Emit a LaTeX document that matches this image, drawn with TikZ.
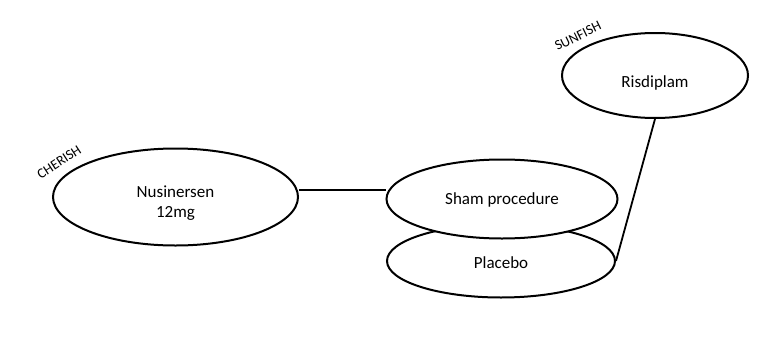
\documentclass[tikz,border=0pt]{standalone}
\usepackage{fontspec}
\setmainfont{Carlito}
\usetikzlibrary{shapes.geometric}
\begin{document}
\begin{tikzpicture}[x=1pt,y=-1pt,
  arm/.style={draw=black,line width=2pt,fill=white,ellipse,inner sep=0pt},
  armtext/.style={font=\fontsize{17}{20.5}\selectfont,align=center,inner sep=0pt},
  study/.style={font=\fontsize{14}{16}\selectfont,inner sep=0pt},
  link/.style={line width=1.8pt}]
\useasboundingbox (0,0) rectangle (765,348);
\node[arm,minimum width=245,minimum height=97] (nus) at (175.5,197) {};
\node[armtext] (nust) at (175.5,203) {Nusinersen\\12mg};
\node[arm,minimum width=228,minimum height=73] (pla) at (501,261) {};
\node[armtext] (plat) at (501,263) {Placebo};
\node[arm,minimum width=231,minimum height=79] (sham) at (502,199) {};
\node[armtext] (shamt) at (502,200) {Sham procedure};
\node[arm,minimum width=186,minimum height=85] (ris) at (655,75.5) {};
\node[armtext] (rist) at (655,83) {Risdiplam};
\node[study,rotate=33] (cher) at (59,162) {CHERISH};
\node[study,rotate=26] (sun) at (578,36) {SUNFISH};
\draw[link] (nus.east |- 0,190) -- (sham.west |- 0,190);
\draw[link] (ris.south) -- (pla.east);
\end{tikzpicture}
\end{document}
